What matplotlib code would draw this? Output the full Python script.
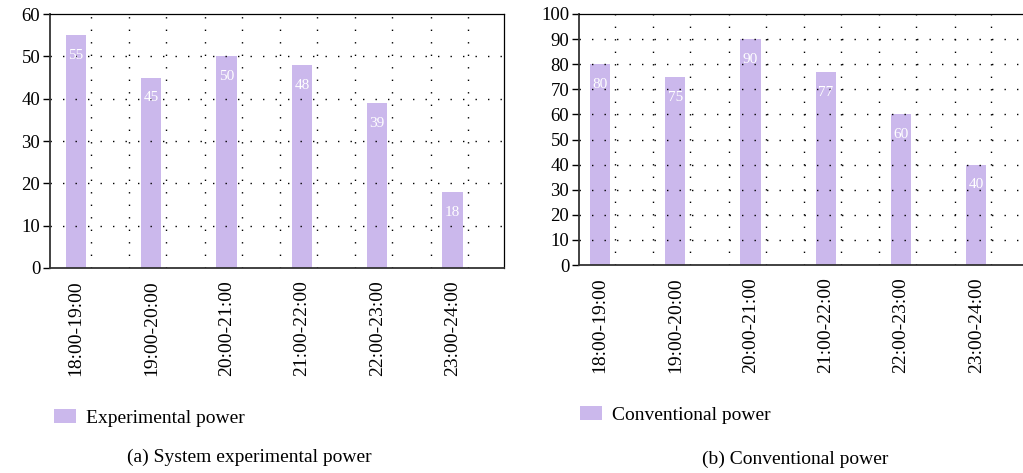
import numpy as np
import matplotlib
matplotlib.use('Agg')
import matplotlib.pyplot as plt
from matplotlib.patches import Patch

# 数据
periods = ['18:00-19:00', '19:00-20:00', '20:00-21:00', '21:00-22:00', '22:00-23:00', '23:00-24:00']
experimental_power = [55, 45, 50, 48, 39, 18]
conventional_power = [80, 75, 90, 77, 60, 40]

bar_color = '#cbb8ec'
plt.rcParams['font.family'] = ['Liberation Serif', 'DejaVu Serif']

W, H = 1023, 473
fig = plt.figure(figsize=(W / 100, H / 100), dpi=100)


def draw_panel(rect, values, ymax, ystep, xlim, legend_text, legend_xy, caption, caption_xy):
    ax = fig.add_axes(rect)
    x = np.arange(len(periods))
    ax.bar(x, values, width=0.27, color=bar_color, zorder=1)
    for xi, v in zip(x, values):
        ax.annotate(str(v), (xi, v), xytext=(0, -10), textcoords='offset points',
                    ha='center', va='top', color='white', fontsize=11, zorder=3)

    ax.set_xlim(*xlim)
    ax.set_ylim(0, ymax)
    ax.set_yticks(np.arange(0, ymax + 1, ystep))
    ax.set_xticks(x)
    ax.set_xticklabels(periods, rotation=90, fontsize=14)
    ax.tick_params(axis='x', length=0, pad=9)
    ax.tick_params(axis='y', length=5, width=1, labelsize=13.5, direction='out', pad=2)

    # 点状网格
    dots = dict(color='black', linestyle=(0, (1, 8)), linewidth=1, zorder=2)
    for yv in np.arange(ystep, ymax, ystep):
        ax.axhline(yv, **dots)
    for xi in x:
        for off in (0.2, 0.71):
            if xlim[0] < xi + off < xlim[1]:
                ax.axvline(xi + off, **dots)

    for side in ('left', 'bottom'):
        ax.spines[side].set_color('#333333')
        ax.spines[side].set_linewidth(1.3)
    for side in ('top', 'right'):
        ax.spines[side].set_color('black')
        ax.spines[side].set_linewidth(0.9)

    fig.legend(handles=[Patch(facecolor=bar_color, edgecolor='none', label=legend_text)],
               loc='center left', bbox_to_anchor=(legend_xy[0] / W, 1 - legend_xy[1] / H),
               bbox_transform=fig.transFigure, frameon=False, fontsize=14,
               handlelength=1.13, handleheight=0.77, handletextpad=0.5,
               borderpad=0, borderaxespad=0)
    fig.text(caption_xy[0] / W, 1 - caption_xy[1] / H, caption, ha='center', va='center', fontsize=14)
    return ax


draw_panel([50 / W, 1 - 268 / H, 454 / W, 254 / H], experimental_power, 60, 10, (-0.345, 5.684),
           'Experimental power', (54, 418), '(a) System experimental power', (249, 457))
draw_panel([579 / W, 1 - 265 / H, 450 / W, 251 / H], conventional_power, 100, 10, (-0.28, 5.7),
           'Conventional power', (580, 415), '(b) Conventional power', (795, 459))

fig.savefig('out.png', dpi=100)
